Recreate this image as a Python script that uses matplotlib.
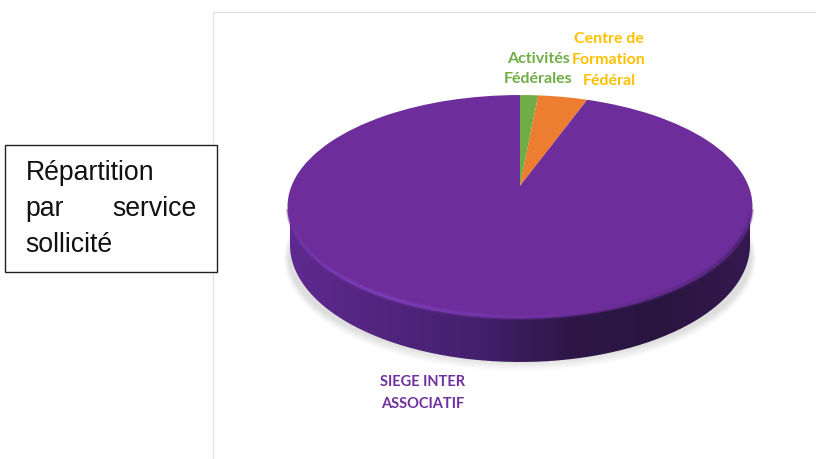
import numpy as np
import matplotlib
matplotlib.use("Agg")
import matplotlib.pyplot as plt
from matplotlib.collections import LineCollection
from matplotlib.colors import LinearSegmentedColormap, to_rgb
from matplotlib.patches import Ellipse, PathPatch, Rectangle
from matplotlib.path import Path
from matplotlib.transforms import Transform

# data
categories = ["Activités\nFédérales", "Centre de\nFormation\nFédéral", "SIEGE INTER\nASSOCIATIF"]
values = [1.5, 4.1, 94.4]
slice_colors = ["#70AD47", "#ED7D31", "#6D2E9B"]
label_colors = ["#70AD47", "#FFC000", "#7030A0"]
label_pos = [(538, 69), (609, 60), (423, 393)]
label_sizes = [11.5, 11.5, 10.5]
label_spacing = [1.6, 1.6, 1.75]
box_lines = ["Répartition", "sollicité"]

# layout
W, H = 816, 459
CX, CY, SX, SY, K = 520.0, 186.0, 228.5, 107.7, 0.184


class Persp(Transform):
    input_dims = output_dims = 2

    def transform_non_affine(self, pts):
        pts = np.asarray(pts, float)
        w = 1 + K * pts[:, 1]
        return np.column_stack((CX + SX * pts[:, 0] / w, CY - SY * pts[:, 1] / w))

    def transform_path_non_affine(self, path):
        p = path.interpolated(1) if path.codes is None else path
        return Path(self.transform_non_affine(p.vertices), p.codes)


fig = plt.figure(figsize=(W / 100, H / 100), dpi=100, facecolor="white")
ax = fig.add_axes([0, 0, 1, 1])
persp = Persp()

wedges, _ = ax.pie(values, colors=slice_colors, startangle=90, counterclock=False,
                   wedgeprops={"linewidth": 0})
ax.set_aspect("auto")
ax.set_xlim(0, W)
ax.set_ylim(H, 0)
ax.axis("off")

# chart-area frame
ax.plot([213, 213, W], [H, 12, 12], color="#E4E4E4", lw=1, zorder=1)

# soft shadow
for grow in np.linspace(10, 0, 11):
    ax.add_patch(Ellipse((520, 258), 2 * (231 + 0.5 * grow), 2 * (103 + grow),
                         fc="#888888", ec="none", alpha=0.022, zorder=2))

# side wall with horizontal gradient
t = np.linspace(np.pi, 0, 200)
xb = 520 + 230 * np.cos(t)
yb = 245 + 117 * np.sin(t)
verts = np.column_stack((np.r_[xb, 750, 290], np.r_[yb, 208, 208]))
body = PathPatch(Path(np.vstack((verts, verts[0]))), transform=ax.transData, fc="none", ec="none")
ax.add_patch(body)
cmap = LinearSegmentedColormap.from_list("side", ["#5E2A90", "#52257F", "#45206F", "#2E1748", "#2A1540", "#34194F"])
im = ax.imshow(np.linspace(0, 1, 256)[None, :], cmap=cmap, extent=(287, 752, 365, 200),
               aspect="auto", zorder=3)
im.set_clip_path(body)
ax.set_xlim(0, W)
ax.set_ylim(H, 0)

# top face
for w in wedges:
    w.set_transform(persp + ax.transData)
    w.set_zorder(5)
    w.set_clip_on(False)

# bevel along the front rim (soft: several passes of decreasing width)
ang = np.radians(np.linspace(192, 348, 200))
pts = persp.transform_non_affine(np.column_stack((0.995 * np.cos(ang), 0.995 * np.sin(ang))))
segs = np.stack((pts[:-1], pts[1:]), axis=1)
f = np.linspace(0, 1, len(segs))[:, None]
c0, c1, c2, c3 = map(np.array, map(to_rgb, ["#6D2E9B", "#8040BC", "#6D2E9B", "#4A2470"]))
cols = np.where(f < 0.3, c0 + (c1 - c0) * (f / 0.3),
                np.where(f < 0.6, c1 + (c2 - c1) * ((f - 0.3) / 0.3),
                         np.where(f < 0.9, c2 + (c3 - c2) * ((f - 0.6) / 0.3),
                                  c3 + (c0 - c3) * ((f - 0.9) / 0.1))))
for lw, a in [(4.0, 0.3), (2.5, 0.5), (1.2, 0.7)]:
    ax.add_collection(LineCollection(segs, colors=cols, linewidths=lw, alpha=a,
                                     capstyle="butt", zorder=6))

# data labels
for name, col, (x, y), fs, ls in zip(categories, label_colors, label_pos, label_sizes, label_spacing):
    ax.text(x, y, name, color=col, ha="center", va="center", fontsize=fs,
            fontweight="bold", family="Lato", linespacing=ls, zorder=8)

# text box
ax.add_patch(Rectangle((5, 145), 212, 127, fc="white", ec="#222222", lw=1, zorder=9))
box_kw = dict(fontsize=19.2, family="Liberation Sans", color="#111111", va="center", zorder=10)
ax.text(25.5, 173, box_lines[0], ha="left", **box_kw)
ax.text(25.5, 209, "par", ha="left", **box_kw)
ax.text(196.5, 209, "service", ha="right", **box_kw)
ax.text(25.5, 245, box_lines[1], ha="left", **box_kw)

fig.savefig("out.png", dpi=100, facecolor="white")
